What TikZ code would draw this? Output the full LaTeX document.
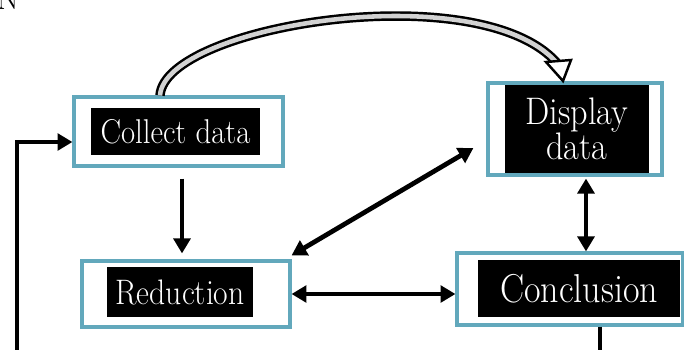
\documentclass[tikz,border=0pt]{standalone}
\usetikzlibrary{arrows.meta}

\definecolor{frameteal}{RGB}{98,168,188}

\tikzset{
    tealframe/.style={draw=frameteal, line width=1.8pt, inner sep=0pt},
    blackbox/.style={fill=black, text=white, inner sep=0pt, align=center},
    conn/.style={line width=2.7pt, -{Triangle[width=9.5pt,length=8.5pt]}},
    biconn/.style={line width=2.7pt, {Triangle[width=9.5pt,length=8.5pt]}-{Triangle[width=9.5pt,length=8.5pt]}},
}

\begin{document}
\begin{tikzpicture}[x=0.02cm, y=-0.02cm]
    \path[use as bounding box, clip] (0,0) rectangle (684,349);

    \node[anchor=base east, font=\fontsize{18}{20}\selectfont] (heading) at (25,9) {AN};

    \node[tealframe, minimum width=4.18cm, minimum height=1.38cm] (collectframe) at (178.5,131.5) {};
    \node[blackbox, minimum width=3.38cm, minimum height=0.94cm, font=\fontsize{17.5}{20}\selectfont] (collect) at (175.5,131.5) {\scalebox{1}[1.12]{Collect data}};

    \node[tealframe, minimum width=4.16cm, minimum height=1.32cm] (reductionframe) at (186,294) {};
    \node[blackbox, minimum width=2.92cm, minimum height=1.0cm, font=\fontsize{18}{20}\selectfont] (reduction) at (180,292) {\scalebox{1}[1.12]{Reduction}};

    \node[tealframe, minimum width=3.48cm, minimum height=1.84cm] (displayframe) at (575,129) {};
    \node[blackbox, minimum width=2.88cm, minimum height=1.76cm, font=\fontsize{19.5}{20}\selectfont] (display) at (577,129) {\scalebox{1}[1.12]{Display}\\\scalebox{1}[1.12]{data}};

    \node[tealframe, minimum width=4.52cm, minimum height=1.44cm] (conclusionframe) at (570,289) {};
    \node[blackbox, minimum width=4.04cm, minimum height=1.14cm, font=\fontsize{20.5}{22}\selectfont] (conclusion) at (579,288.5) {\scalebox{1}[1.12]{Conclusion}};

    % arrows between the steps
    \draw[conn, shorten <=0.22cm, shorten >=0.12cm] ([xshift=0.07cm]collectframe.south) -- ([xshift=0.07cm]collectframe.south |- reductionframe.north);
    \draw[biconn] ([yshift=0.08cm]reductionframe.north east) -- ([xshift=-0.26cm, yshift=-0.38cm]displayframe.west);
    \draw[biconn] (reductionframe.east) -- (reductionframe.east -| conclusionframe.west);
    \draw[biconn, shorten <=0.04cm] ([xshift=0.22cm]displayframe.south) -- ([xshift=0.22cm]displayframe.south |- conclusionframe.north);

    % loop back to the start
    \coordinate (low) at (17,380);
    \coordinate (back) at (17,142);
    \draw[conn] ([xshift=0.6cm]conclusionframe.south) |- (low) -- (back) -- (back -| collectframe.west);

    % curved hollow arrow over the top
    \coordinate (headleft) at (546,62);
    \coordinate (headright) at (571,60);
    \coordinate (headtip) at (563,81);
    \draw[line width=1.4pt, double=gray!35, double distance=2.6pt] ([xshift=-0.37cm]collectframe.north) .. controls (165,25) and (480,-25) .. (557,63);
    \filldraw[fill=white, line width=1.4pt, line join=miter] (headleft) -- (headright) -- (headtip) -- cycle;
\end{tikzpicture}
\end{document}
